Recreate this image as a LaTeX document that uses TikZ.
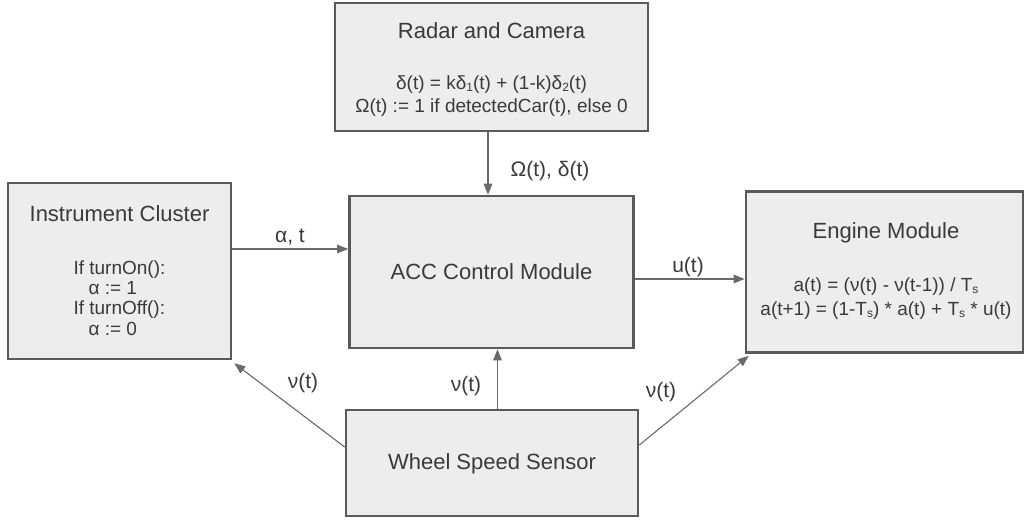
\documentclass[tikz,border=0pt]{standalone}
\usepackage{fontspec}
\setmainfont{Liberation Sans}
\usetikzlibrary{arrows.meta}

\definecolor{boxfill}{HTML}{EDEDED}
\definecolor{boxline}{HTML}{5A5A5A}
\definecolor{txtgray}{HTML}{3A3A3A}
\definecolor{arrgray}{HTML}{6A6A6A}

% small lowered index (T_s, delta_1)
\newcommand{\lowidx}[1]{\raisebox{-0.2ex}{\fontsize{12}{12}\selectfont #1}}

\begin{document}
\begin{tikzpicture}[x=1pt, y=-1pt,
    block/.style={draw=boxline, line width=2.6pt, fill=boxfill, inner sep=0pt},
    title/.style={text=txtgray, font=\fontsize{22}{26}\selectfont, inner sep=0pt},
    body/.style={text=txtgray, font=\fontsize{19}{23}\selectfont, align=center, inner sep=0pt},
    lbl/.style={text=txtgray, font=\fontsize{21}{24}\selectfont, inner sep=0pt},
    flow/.style={draw=arrgray, line width=1.1pt, -{Triangle[length=11pt, width=8.5pt]}}]
    \useasboundingbox (0,0) rectangle (1024,520);

    % Bloecke
    \node[block, minimum width=313pt, minimum height=128pt] (radar) at (491.5,67) {};
    \node[block, minimum width=223pt, minimum height=176pt] (cluster) at (119.5,271) {};
    \node[block, minimum width=284pt, minimum height=152pt] (acc) at (491.5,272) {};
    \node[block, minimum width=277pt, minimum height=161pt] (engine) at (884.5,272) {};
    \node[block, minimum width=292pt, minimum height=106pt] (wss) at (492,463) {};

    % Texte in den Bloecken
    \node[title] (radartitle) at (491.5,31) {Radar and Camera};
    \node[body] (radarbody) at (491.5,96)
        {δ(t) = kδ\lowidx{1}(t) + (1-k)δ\lowidx{2}(t)\\Ω(t) := 1 if detectedCar(t), else 0};
    \node[title] (clustertitle) at (119.5,214) {Instrument Cluster};
    \node[body, align=left, font=\fontsize{19}{20.3}\selectfont] (clusterbody) at (119.5,298)
        {If turnOn():\\\hspace{15pt}α := 1\\If turnOff():\\\hspace{15pt}α := 0};
    \node[title] (acctitle) at (491.5,272) {ACC Control Module};
    \node[title] (enginetitle) at (886,233) {Engine Module};
    \node[body, font=\fontsize{19}{24}\selectfont] (enginebody) at (886,299)
        {a(t) = (ν(t) - ν(t-1)) / T\lowidx{s}\\a(t+1) = (1-T\lowidx{s}) * a(t) + T\lowidx{s} * u(t)};
    \node[title] (wsstitle) at (492,464) {Wheel Speed Sensor};

    % Verbindungen
    \draw[flow] ([xshift=-3.5pt]radar.south) -- ([xshift=-3.5pt]acc.north);
    \draw[flow] ([yshift=22pt]cluster.east) -- ([yshift=22pt]cluster.east -| acc.west);
    \draw[flow] ([yshift=-7pt]acc.east) -- ([yshift=-7pt]acc.east -| engine.west);
    \draw[flow] ([xshift=5.5pt]wss.north) -- ([xshift=5.5pt]wss.north |- acc.south);
    \draw[flow] ([yshift=16pt]wss.west) -- ([xshift=2pt, yshift=-3pt]cluster.south east);
    \draw[flow] ([yshift=18pt]wss.east) -- ([xshift=4pt, yshift=-2pt]engine.south west);

    % Beschriftungen
    \node[lbl] (omegadelta) at (550,171) {Ω(t), δ(t)};
    \node[lbl] (alphat) at (290,237) {α, t};
    \node[lbl] (ut) at (688,267) {u(t)};
    \node[lbl] (nuleft) at (303,383) {ν(t)};
    \node[lbl] (numid) at (466,386) {ν(t)};
    \node[lbl] (nuright) at (661,392) {ν(t)};
\end{tikzpicture}
\end{document}
